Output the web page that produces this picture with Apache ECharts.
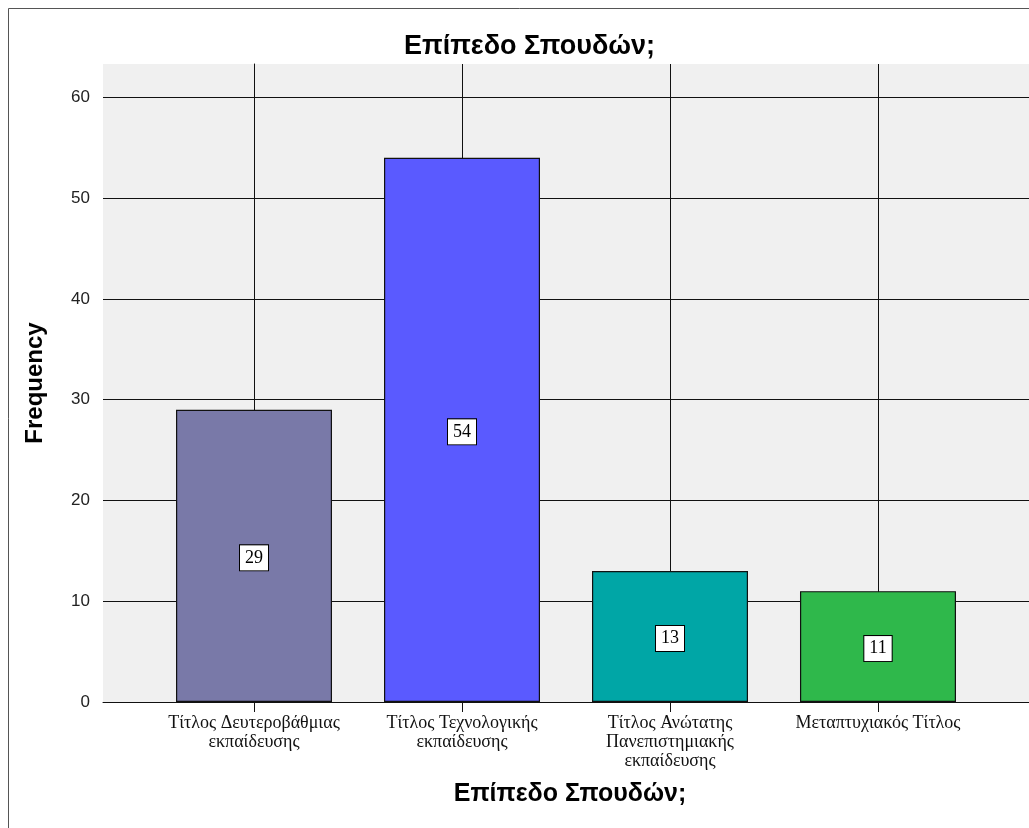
<!DOCTYPE html>
<html>
<head>
<meta charset="utf-8">
<script src="https://cdn.jsdelivr.net/npm/echarts@6/dist/echarts.min.js"></script>
<style>html,body{margin:0;padding:0;background:#fff;}#c{width:1029px;height:828px;}</style>
</head>
<body>
<div id="c"></div>
<script>
var categories = ['Τίτλος Δευτεροβάθμιας\nεκπαίδευσης', 'Τίτλος Τεχνολογικής\nεκπαίδευσης', 'Τίτλος Ανώτατης\nΠανεπιστημιακής\nεκπαίδευσης', 'Μεταπτυχιακός Τίτλος'];
var frequencies = [29, 54, 13, 11];
var barColors = ['#7979a8', '#5a5aff', '#00a6a6', '#2fb84b'];
var yTicks = [0, 10, 20, 30, 40, 50, 60];
var catPositions = [0, 1, 2, 3];

var chart = echarts.init(document.getElementById('c'), null, {renderer: 'canvas'});
var barData = frequencies.map(function (v, i) {
  return { value: [catPositions[i], v], itemStyle: { color: barColors[i] } };
});
chart.setOption({
  animation: false,
  backgroundColor: '#ffffff',
  graphic: [{
    type: 'rect', z: -10, silent: true,
    shape: { x: 8.5, y: 8.5, width: 1100, height: 900 },
    style: { fill: 'none', stroke: '#555', lineWidth: 1 }
  }],
  title: {
    text: 'Επίπεδο Σπουδών;',
    left: 399, top: 28,
    textStyle: { fontFamily: 'Liberation Sans', fontWeight: 'bold', fontSize: 27, color: '#000' }
  },
  grid: {
    left: 103, top: 64, right: 0, bottom: 126,
    show: true, backgroundColor: '#f0f0f0', borderWidth: 0
  },
  xAxis: {
    type: 'value', min: -0.726, max: 3.726,
    name: 'Επίπεδο Σπουδών;', nameLocation: 'middle', nameGap: 80,
    nameTextStyle: { fontFamily: 'Liberation Sans', fontWeight: 'bold', fontSize: 25, color: '#000', padding: [0, 0, 0, 8] },
    axisLine: { show: true, lineStyle: { color: '#111', width: 1 } },
    axisTick: { show: true, customValues: catPositions, length: 10, lineStyle: { color: '#111', width: 1 } },
    axisLabel: {
      customValues: catPositions, margin: 12,
      fontFamily: 'Liberation Serif', fontSize: 18, lineHeight: 19, color: '#111',
      formatter: function (v) { return categories[Math.round(v)]; }
    },
    splitLine: { show: true, lineStyle: { color: '#111', width: 1 } }
  },
  yAxis: {
    type: 'value', min: 0, max: 63.3,
    name: 'Frequency', nameLocation: 'middle', nameGap: 56, nameRotate: 90,
    nameTextStyle: { fontFamily: 'Liberation Sans', fontWeight: 'bold', fontSize: 24, color: '#000' },
    axisLine: { show: true, lineStyle: { color: '#111', width: 1 } },
    axisTick: { show: true, customValues: yTicks, length: 11, lineStyle: { color: '#111', width: 1 } },
    axisLabel: { customValues: yTicks, margin: 13, fontFamily: 'Liberation Sans', fontSize: 17, color: '#222' },
    splitLine: { show: true, lineStyle: { color: '#111', width: 1 } }
  },
  series: [{
    type: 'bar',
    data: barData,
    barWidth: 156,
    itemStyle: { borderColor: '#111', borderWidth: 1.2 },
    label: {
      show: true, position: 'inside', offset: [0, 2],
      formatter: function (p) { return String(p.value[1]); },
      fontFamily: 'Liberation Serif', fontSize: 18, color: '#000',
      backgroundColor: '#fff', borderColor: '#000', borderWidth: 1, padding: [4, 5, 3, 5]
    }
  }]
});
</script>
</body>
</html>
